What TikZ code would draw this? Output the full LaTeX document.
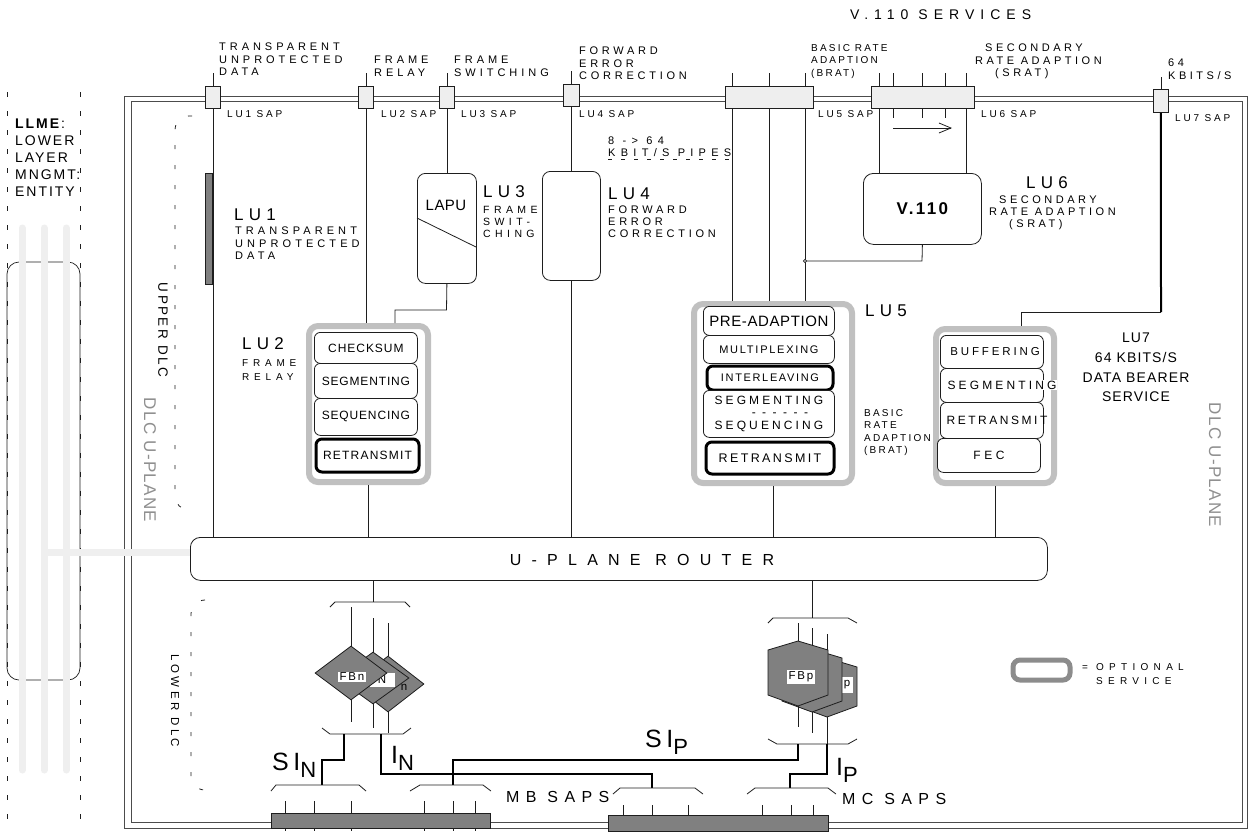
\documentclass[tikz,border=0pt]{standalone}
\usepackage{fontspec}
\setmainfont{Liberation Sans}
\usetikzlibrary{arrows.meta,shapes.geometric}
\definecolor{ln}{HTML}{1E1E1E}
\definecolor{sapfill}{HTML}{EEEEEE}
\definecolor{dk}{HTML}{808080}
\definecolor{opt}{HTML}{C0C0C0}
\definecolor{optl}{HTML}{8C8C8C}
\definecolor{llg}{HTML}{EFEFEF}
\definecolor{dlcg}{HTML}{8F8F8F}
\newcommand\fnt[3]{\fontsize{#1}{#2}\selectfont\addfontfeatures{LetterSpace=#3}}
\newcommand\sil[2]{{\fnt{25}{25}{18}#1}\raisebox{-7pt}{\fnt{22}{22}{0}#2}}
\begin{document}
\begin{tikzpicture}[x=1pt,y=-1pt,
  wire/.style={draw=ln, line width=0.8pt},
  heavy/.style={draw=black, line width=2pt},
  mid/.style={draw=black, line width=1.3pt},
  framel/.style={draw=black!70, line width=0.9pt},
  dotl/.style={draw=ln, line width=0.8pt, dash pattern=on 5pt off 14pt},
  bracketl/.style={draw=ln, line width=0.8pt, dash pattern=on 4pt off 16pt, rounded corners=14pt},
  sapbox/.style={draw=ln, fill=sapfill, line width=0.8pt, inner sep=0pt, anchor=north west},
  rbox/.style={draw=ln, fill=white, line width=0.8pt, rounded corners=8pt, inner sep=0pt, anchor=north west},
  optframe/.style={draw=opt, fill=white, line width=6pt, rounded corners=9pt, inner sep=0pt, anchor=north west},
  fbox/.style={draw=ln, fill=white, line width=0.8pt, rounded corners=6pt, inner sep=0pt, anchor=north west, align=center},
  fthick/.style={fbox, draw=black, line width=3pt},
  darkbar/.style={draw=ln, fill=dk, line width=0.8pt, inner sep=0pt, anchor=north west},
  tx/.style={inner sep=0pt, anchor=north west, align=left},
  fblab/.style={fill=white, inner sep=1.5pt, font={\fnt{11.5}{11.5}{15}}},
  dia/.style={diamond, draw=ln, fill=dk, line width=0.8pt, inner sep=0pt, minimum width=72pt},
  hexs/.style={draw=ln, fill=dk, line width=0.8pt}
]
\useasboundingbox (0,0) rectangle (1248,831);
\fill[white] (0,0) rectangle (1248,831);

% ---------------- LLME ----------------
\draw[dotl] (7,92) -- (7,831);
\draw[dotl] (80,92) -- (80,831);
\draw[draw=ln, line width=0.7pt, rounded corners=12pt] (7,262) rectangle (80,680);
\foreach \x in {22,44,66} \draw[line width=7pt, draw=llg, line cap=round] (\x,228) -- (\x,770);
\node[tx, font={\fnt{14}{17}{14}}] (llme) at (15,119) {\textbf{LLME}:\\LOWER\\LAYER\\MNGMT:\\ENTITY};

% ---------------- frame ----------------
\draw[framel] (124,96) rectangle (1247,828);
\draw[framel] (131,101) rectangle (1242,822);
\draw[line width=7pt, draw=llg] (44,552) -- (190,552);

% DLC brackets
\draw[bracketl] (192,116) -- (175,116) -- (175,510) -- (192,510);
\draw[bracketl] (205,600) -- (191,600) -- (191,790) -- (205,790);

% ---------------- nodes (boxes) ----------------
\node[sapbox, minimum width=15pt, minimum height=22pt] (s1) at (205,86) {};
\node[sapbox, minimum width=15pt, minimum height=22pt] (s2) at (358,86) {};
\node[sapbox, minimum width=15pt, minimum height=22pt] (s3) at (439,86) {};
\node[sapbox, minimum width=16pt, minimum height=22pt] (s4) at (563,84) {};
\node[sapbox, minimum width=88pt, minimum height=22pt] (s5) at (725,86) {};
\node[sapbox, minimum width=103pt, minimum height=22pt] (s6) at (871,86) {};
\node[sapbox, minimum width=15pt, minimum height=23pt] (s7) at (1153,89) {};

% wires up from SAPs
\foreach \n in {s1,s2,s3,s4} \draw[wire] (\n.north) -- ++(0,-13);
\draw[wire] (s7.north) -- ++(0,-12);
\foreach \x in {732,769,805} \draw[wire] (\x,73) -- (\x,86);
\foreach \x in {879,893,922,945,966} \draw[wire] (\x,73) -- (\x,86);

\node[rbox, minimum width=59pt, minimum height=110pt] (lapu) at (417,173) {};
\node[rbox, minimum width=58pt, minimum height=109pt] (lu4) at (542,171) {};
\node[rbox, rounded corners=10pt, minimum width=118pt, minimum height=71pt, font={\bfseries\fnt{17}{17}{14}}] (v110) at (863,173) {V.110};
\node[rbox, rounded corners=10pt, minimum width=857pt, minimum height=43pt] (router) at (190,537) {};
\node[font={\fnt{16}{16}{64}}] (routerlab) at (642,560) {U-PLANE ROUTER};
\node[darkbar, minimum width=7pt, minimum height=111pt] (lu1bar) at (205,173) {};

% LU5 side text drawn before LU7 frame (partly hidden in the original)
\node[tx, font={\fnt{10}{12.5}{22}}] (lu5sub) at (864,409) {BASIC\\RATE\\ADAPTION\\(BRAT)};

% groups
\node[optframe, minimum width=119pt, minimum height=156pt] (g2) at (306,323) {};
\node[optframe, minimum width=158pt, minimum height=179pt] (g5) at (691,301) {};
\node[optframe, minimum width=118pt, minimum height=154pt] (g7) at (933,326) {};

% wires down
\draw[wire] (s1.south) -- (s1.south |- router.north);
\draw[wire] (s2.south) -- (s2.south |- g2.north);
\draw[wire] (g2.south) -- (g2.south |- router.north);
\draw[wire] (s3.south) -- (lapu.north);
\draw[wire] (lapu.south) -- (446.5,310) -- (395,310) -- (395,323);
\draw[wire] (s4.south) -- (lu4.north);
\draw[wire] (lu4.south) -- (lu4.south |- router.north);
\foreach \x in {732,769,805} \draw[wire] (\x,108) -- (\x,301);
\draw[wire] (g5.south) -- (g5.south |- router.north);
\coordinate (jn) at (805,261);
\draw[wire] (jn) -- (922,261) -- (v110.south);
\draw[wire, fill=white] (jn) circle (1.6pt);
\draw[wire] (879,108) -- (879,173);
\draw[wire] (966,108) -- (966,173);
\foreach \x in {893,922,945} \draw[wire] (\x,108) -- (\x,118);
\draw[wire, -{Straight Barb[length=12pt,width=10pt]}] (893,128) -- (952,128);
\coordinate (k7) at (1161,312);
\draw[heavy] (s7.south) -- (k7);
\draw[wire] (k7) -- (1021,312) -- (1021,326);
\draw[wire] (g7.south) -- (g7.south |- router.north);
\draw[wire] (417,218) -- (476,247);
\node[font={\fnt{15}{15}{3}}] (lapulab) at (446,205) {LAPU};
\draw[wire, dash pattern=on 4pt off 9pt] (608,159) -- (735,159);

% LU2 inner boxes
\node[fbox, minimum width=103pt, minimum height=31pt, font={\fnt{12}{12}{8}}] (cks) at (314,332) {CHECKSUM};
\node[fbox, minimum width=103pt, minimum height=35pt, font={\fnt{12}{12}{7}}] (sg2) at (314,363) {SEGMENTING};
\node[fbox, minimum width=103pt, minimum height=37pt, font={\fnt{12}{12}{7}}] (sq2) at (314,398) {SEQUENCING};
\node[fthick, minimum width=103pt, minimum height=33pt, font={\fnt{12}{12}{10}}] (rt2) at (314.5,437.5) {RETRANSMIT};

% LU5 inner boxes
\node[fbox, minimum width=131pt, minimum height=29pt, font={\fnt{15}{15}{4}}] (pre) at (703,306) {PRE-ADAPTION};
\node[fbox, minimum width=131pt, minimum height=28pt, font={\fnt{11}{11}{16}}] (mux) at (703,335) {MULTIPLEXING};
\node[fthick, minimum width=126pt, minimum height=24pt, font={\fnt{11}{11}{15}}] (ilv) at (705.5,364.5) {INTERLEAVING};
\node[fbox, minimum width=131pt, minimum height=47pt, font={\fnt{12}{12.5}{26}}] (ss5) at (703,390) {SEGMENTING\\\hspace*{22pt}- - - - - -\\SEQUENCING};
\node[fthick, minimum width=128pt, minimum height=32pt, font={\fnt{12.5}{12.5}{19}}] (rt5) at (704.5,440.5) {RETRANSMIT};

% LU7 inner boxes
\node[fbox, minimum width=103pt, minimum height=33pt] (buf) at (940,335) {};
\node[fbox, minimum width=103pt, minimum height=34pt] (sg7) at (940,368) {};
\node[fbox, minimum width=103pt, minimum height=36pt] (rt7) at (940,402) {};
\node[fbox, minimum width=103pt, minimum height=34pt] (fec) at (937,438) {};
\node[font={\fnt{11.5}{11.5}{25}}] at (995,352) {BUFFERING};
\node[fill=white, inner sep=1pt, font={\fnt{12}{12}{26}}] at (1002,385) {SEGMENTING};
\node[font={\fnt{12}{12}{21}}] at (997,420) {RETRANSMIT};
\node[font={\fnt{12}{12}{30}}] at (989,455) {FEC};

% legend
\node[draw=optl, fill=white, line width=5pt, rounded corners=7pt, inner sep=0pt, anchor=north west, minimum width=57pt, minimum height=20pt] (leg) at (1010.5,657.5) {};

% ---------------- lower DLC: FBn ----------------
\coordinate (bn) at (373,602);
\draw[wire] (bn |- router.south) -- (bn);
\draw[wire] (330,607) -- (335,602) -- (405,602) -- (410,607);
\draw[wire] (351,607) -- (351,646);
\draw[wire] (373,618) -- (373,652);
\draw[wire] (388,623) -- (388,656);
\node[dia, minimum height=56pt] (dn1) at (388,684) {};
\node[font={\fnt{11.5}{11.5}{0}}] at (404,687) {n};
\node[dia, minimum height=52pt] (dn2) at (373,678) {};
\node[fill=white, inner sep=0pt, minimum width=25pt, minimum height=14pt, font={\fnt{11.5}{11.5}{0}}] at (382,680) {N};
\node[dia, minimum height=54pt] (dn3) at (351,673) {};
\node[fblab] at (352,677) {FBn};
\draw[wire] (dn3.south) -- (351,722);
\draw[wire] (dn2.south) -- (373,728);
\draw[wire] (dn1.south) -- (388,733);
\draw[wire] (322,728) -- (330,734) -- (403,734) -- (411,728);
\draw[heavy] (344,734) -- (344,760) -- (322,760) -- (322,785);
\draw[mid] (381,734) -- (381,774) -- (652,774) -- (652,788);

% ---------------- FBp ----------------
\coordinate (bp) at (812,618);
\draw[wire] (bp |- router.south) -- (bp);
\draw[wire] (768,623) -- (773,618) -- (848,618) -- (857,623);
\draw[wire] (798,623) -- (798,641);
\draw[wire] (812,628) -- (812,649);
\draw[wire] (827,634) -- (827,658);
\filldraw[hexs] (827,658) -- (857,667) -- (857,706) -- (827,717) -- (797,706) -- (797,667) -- cycle;
\node[fill=white, inner sep=0pt, minimum width=11pt, minimum height=16pt, font={\fnt{11.5}{11.5}{0}}] at (847,685) {p};
\filldraw[hexs] (812,649) -- (842,658) -- (842,701) -- (812,712) -- (782,701) -- (782,658) -- cycle;
\filldraw[hexs] (798,641) -- (828,650) -- (828,695) -- (798,706) -- (768,695) -- (768,650) -- cycle;
\node[fblab] at (801,677) {FBp};
\draw[wire] (798,706) -- (798,727);
\draw[wire] (812,712) -- (812,733);
\draw[wire] (827,717) -- (827,744);
\draw[wire] (768,739) -- (777,744) -- (848,744) -- (857,739);
\draw[heavy] (798,744) -- (798,760) -- (453,760) -- (453,785);
\draw[heavy] (827,744) -- (827,774) -- (790,774) -- (790,788);

% ---------------- bottom SAPs ----------------
\draw[wire] (271,791) -- (276,785) -- (359,785) -- (366,791);
\draw[wire] (410,791) -- (420,785) -- (483,785) -- (491,791);
\draw[wire] (613,794) -- (620,788) -- (695,788) -- (703,794);
\draw[wire] (747,794) -- (755,788) -- (828,788) -- (836,794);
\foreach \x in {285,314,351,424,453,475} \draw[wire] (\x,801) -- (\x,831);
\foreach \x in {623,652,688,762,791,813} \draw[wire] (\x,805) -- (\x,831);
\node[darkbar, minimum width=219pt, minimum height=15pt] (mbbar) at (271,813) {};
\node[darkbar, minimum width=220pt, minimum height=16pt] (mcbar) at (608,815) {};

% ---------------- texts ----------------
\node[tx, font={\fnt{11}{12.5}{36}}] (h1) at (219,43) {TRANSPARENT\\UNPROTECTED\\DATA};
\node[tx, font={\fnt{11}{12.5}{36}}] (h2) at (374,56) {FRAME\\RELAY};
\node[tx, font={\fnt{11}{12.5}{36}}] (h3) at (454,56) {FRAME\\SWITCHING};
\node[tx, font={\fnt{11}{12.5}{34}}] (h4) at (579,47) {FORWARD\\ERROR\\CORRECTION};
\node[tx, font={\fnt{10}{12.5}{22}}] (h5) at (811,44) {BASIC RATE\\ADAPTION\\(BRAT)};
\node[tx, font={\fnt{11}{12.5}{32}}] (h6) at (975,44) {\hspace*{10pt}SECONDARY\\RATE ADAPTION\\\hspace*{20pt}(SRAT)};
\node[tx, font={\fnt{11}{12.5}{32}}] (h7) at (1168,59) {64\\KBITS/S};
\node[tx, font={\fnt{14}{14}{43}}] (h8) at (850,10) {V.110 SERVICES};

\node[tx, font={\fnt{10}{10}{28}}] at (227,110) {LU1 SAP};
\node[tx, font={\fnt{10}{10}{28}}] at (381,110) {LU2 SAP};
\node[tx, font={\fnt{10}{10}{28}}] at (461,110) {LU3 SAP};
\node[tx, font={\fnt{10}{10}{28}}] at (579,110) {LU4 SAP};
\node[tx, font={\fnt{10}{10}{28}}] at (818,110) {LU5 SAP};
\node[tx, font={\fnt{10}{10}{28}}] at (981,110) {LU6 SAP};
\node[tx, font={\fnt{10}{10}{28}}] at (1175,114) {LU7 SAP};

\node[tx, font={\fnt{17}{17}{31}}] at (234,209) {LU1};
\node[tx, font={\fnt{11}{12.5}{37}}] at (235,227) {TRANSPARENT\\UNPROTECTED\\DATA};
\node[tx, font={\fnt{17}{17}{31}}] at (242,337) {LU2};
\node[tx, font={\fnt{10}{14}{48}}] at (242,359) {FRAME\\RELAY};
\node[tx, font={\fnt{17}{17}{31}}] at (483,185) {LU3};
\node[tx, font={\fnt{10.5}{12}{42}}] at (483,206) {FRAME\\SWIT-\\CHING};
\node[tx, font={\fnt{17}{17}{31}}] at (608,188) {LU4};
\node[tx, font={\fnt{11}{12}{34}}] at (608,206) {FORWARD\\ERROR\\CORRECTION};
\node[tx, font={\fnt{11}{12}{48}}] at (608,137) {8 -> 64\\KBIT/S PIPES};
\node[tx, font={\fnt{17}{17}{31}}] at (865,305) {LU5};
\node[tx, font={\fnt{17}{17}{31}}] at (1026,176) {LU6};
\node[tx, font={\fnt{11}{12}{32}}] at (989,196) {\hspace*{10pt}SECONDARY\\RATE ADAPTION\\\hspace*{20pt}(SRAT)};
\node[inner sep=0pt, anchor=north, align=center, font={\fnt{14}{19.7}{8}}] at (1136,333) {LU7\\64 KBITS/S\\DATA BEARER\\SERVICE};

\node[rotate=-90, text=dlcg, font={\fnt{17}{17}{8}}] at (150,460) {DLC U-PLANE};
\node[rotate=-90, text=dlcg, font={\fnt{17}{17}{8}}] at (1215,465) {DLC U-PLANE};
\node[rotate=-90, font={\fnt{13.5}{13.5}{18}}] at (163,330) {UPPER DLC};
\node[rotate=-90, font={\fnt{11.5}{11.5}{30}}] at (175,701) {LOWER DLC};

\node[tx, font={\fnt{16}{16}{40}}] at (506,791) {MB SAPS};
\node[tx, font={\fnt{16}{16}{40}}] at (842,793) {MC SAPS};
\node[tx, font={\fnt{10}{14}{53}}] at (1082,663) {= OPTIONAL\\\phantom{= }SERVICE};

\node[inner sep=0pt, anchor=base west] at (272,770) {\sil{SI}{N}};
\node[inner sep=0pt, anchor=base west] at (391,763) {\sil{I}{N}};
\node[inner sep=0pt, anchor=base west] at (645,747) {\sil{SI}{P}};
\node[inner sep=0pt, anchor=base west] at (836,775) {\sil{I}{P}};
\end{tikzpicture}
\end{document}
